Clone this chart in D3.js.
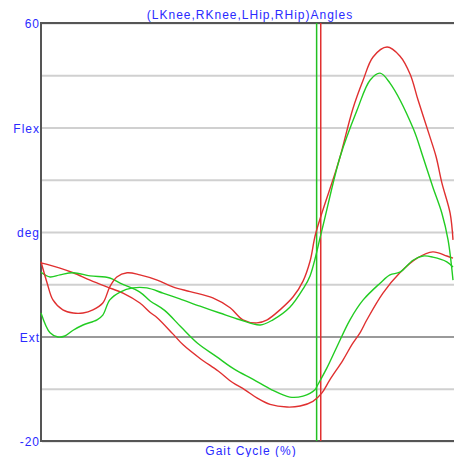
<!DOCTYPE html>
<html lang="en">
<head>
<meta charset="utf-8">
<title>Knee and hip angles</title>
<script src="https://d3js.org/d3.v7.min.js"></script>
<style>
  body { margin: 0; background: #fff; }
  svg text { font-family: "Liberation Sans", Arial, sans-serif; font-size: 12px; fill: #2a2aff; letter-spacing: 1px; }
</style>
</head>
<body>
<script>
// gait cycle (%) , angle (deg)
const lKnee = [[0,14.3],[1.5,10.2],[2.9,7.0],[5.3,5.1],[7.8,4.5],[10.2,4.5],[12.6,5.1],[15.0,6.4],[16.7,9.5],[18.4,11.4],[20.9,12.2],[24.0,11.8],[28.2,10.8],[32.0,9.5],[36.2,8.6],[41.7,7.4],[45.9,5.5],[49.0,3.2],[52.4,2.6],[54.9,3.2],[58.0,5.1],[61.2,7.6],[63.6,10.6],[65.3,14.4],[66.7,19.8],[71.4,31.3],[72.6,34.4],[75.7,43.6],[78.2,49.1],[80.6,53.5],[84.0,55.4],[87.1,53.7],[89.6,50.2],[91.5,45.3],[94.4,38.2],[95.9,34.4],[97.3,29.4],[99.3,23.6],[100,18.5]];
const rKnee = [[0,4.5],[2.2,0.7],[4.1,-0.1],[5.8,0.1],[7.8,1.2],[10.2,2.2],[13.6,3.2],[15.0,4.1],[16.7,7.0],[19.2,8.5],[22.3,9.3],[25.7,9.3],[29.6,8.3],[33.7,7.2],[38.6,5.8],[43.4,4.5],[48.3,3.2],[53.2,2.2],[56.3,3.2],[60.4,5.6],[63.6,9.1],[65.3,11.6],[68.2,20.4],[72.6,34.4],[76.7,43.3],[79.9,49.1],[82.3,50.4],[84.7,48.5],[90.3,39.9],[92.7,34.4],[95.1,28.6],[97.3,23.6],[98.8,18.5],[100,10.8]];
const lHip = [[0,14.1],[4.6,13.1],[7.8,12.2],[11.9,10.8],[16.0,9.5],[19.9,8.3],[24.0,6.4],[26.5,4.6],[28.2,3.6],[32.0,0.5],[34.5,-1.6],[38.6,-4.2],[43.0,-6.6],[46.5,-8.8],[49.5,-10.2],[52.5,-11.8],[55.6,-13.0],[59.7,-13.5],[62.9,-13.3],[66.0,-12.4],[68.2,-10.8],[70.1,-8.3],[73.3,-4.5],[75.5,-1.5],[77.5,0.8],[79.1,3.2],[83.0,8.3],[87.1,12.2],[91.3,15.0],[95.1,16.2],[98.5,15.4],[100,15.0]];
const rHip = [[0,12.3],[2.2,11.4],[4.6,11.8],[7.8,12.2],[11.9,11.6],[16.7,11.2],[19.2,10.2],[24.0,8.5],[26.5,6.8],[30.0,5.0],[34.0,1.8],[38.0,-1.3],[42.5,-3.8],[47.0,-6.3],[51.5,-8.2],[56.0,-10.2],[60.4,-11.6],[63.6,-11.4],[66.5,-10.2],[67.0,-9.5],[69.4,-6.0],[71.8,-2.0],[75.0,3.2],[78.2,7.0],[82.3,10.2],[84.7,11.8],[87.1,12.3],[90.3,14.6],[92.7,15.4],[95.1,15.2],[98.5,14.3],[100,13.3]];

const toeOff = { left: 67.9, right: 66.9 };  // vertical event lines (%)
const gridTicks = [-20,-10,0,10,20,30,40,50,60];
const tickLabels = { "60": "60", "40": "Flex", "20": "deg", "0": "Ext", "-20": "-20" };

const W = 454, H = 457;
const x = d3.scaleLinear().domain([0, 100]).range([41, 453]);
const y = d3.scaleLinear().domain([-20, 60]).range([441, 23]);

const svg = d3.select("body").append("svg").attr("width", W).attr("height", H);

// gridlines + labels
const yAxis = d3.axisLeft(y).tickValues(gridTicks).tickSize(-(W - 41)).tickPadding(2)
  .tickFormat(d => tickLabels[d] || "");
const g = svg.append("g").attr("transform", "translate(41,0)").call(yAxis);
g.select(".domain").remove();
g.selectAll(".tick line")
  .attr("stroke", d => d === 0 ? "#9a9a9a" : "#d0d0d0")
  .attr("stroke-width", 2)
  .attr("x1", 1);
g.selectAll(".tick text").attr("dy", "0.4em").attr("x", -1).attr("fill", "#2a2aff");

// frame
svg.append("line").attr("x1", 41).attr("x2", W).attr("y1", y(60)).attr("y2", y(60)).attr("stroke", "#555").attr("stroke-width", 2);
svg.append("line").attr("x1", 41).attr("x2", W).attr("y1", y(-20)).attr("y2", y(-20)).attr("stroke", "#555").attr("stroke-width", 2);
svg.append("line").attr("x1", 41).attr("x2", 41).attr("y1", y(60) - 1).attr("y2", y(-20) + 1).attr("stroke", "#555").attr("stroke-width", 2);

// toe-off lines
svg.append("line").attr("x1", x(toeOff.right)).attr("x2", x(toeOff.right)).attr("y1", y(60)).attr("y2", y(-20)).attr("stroke", "#22c022").attr("stroke-width", 1.5);
svg.append("line").attr("x1", x(toeOff.left)).attr("x2", x(toeOff.left)).attr("y1", y(60)).attr("y2", y(-20)).attr("stroke", "#e03030").attr("stroke-width", 1.5);

const line = d3.line().x(d => x(d[0])).y(d => y(d[1])).curve(d3.curveCatmullRom.alpha(0.5));
const series = [
  { data: lHip, color: "#e03030" },
  { data: rHip, color: "#22cc22" },
  { data: lKnee, color: "#e03030" },
  { data: rKnee, color: "#22cc22" }
];
svg.selectAll("path.curve").data(series).join("path")
  .attr("class", "curve")
  .attr("fill", "none")
  .attr("stroke", d => d.color)
  .attr("stroke-width", 1.4)
  .attr("d", d => line(d.data));

// titles
svg.append("text").attr("x", 250).attr("y", 19).attr("text-anchor", "middle")
  .text("(LKnee,RKnee,LHip,RHip)Angles");
svg.append("text").attr("x", 251).attr("y", 455).attr("text-anchor", "middle")
  .text("Gait Cycle (%)");
</script>
</body>
</html>
